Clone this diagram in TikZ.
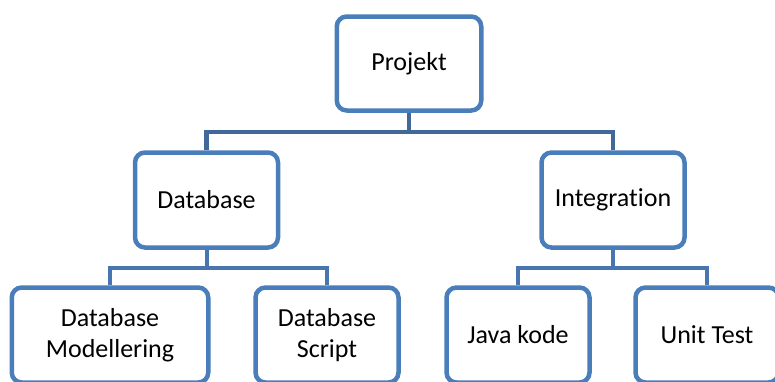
\documentclass[tikz,border=0pt]{standalone}
\usepackage{fontspec}
\setmainfont{Carlito}[Ligatures=NoCommon]
\definecolor{boxblue}{RGB}{74,126,187}
\definecolor{topconn}{RGB}{64,104,153}
\definecolor{lowconn}{RGB}{70,117,176}
\tikzset{
  wbox/.style={draw=boxblue, line width=4.5pt, rounded corners=10pt, fill=white,
    minimum width=143pt, minimum height=95pt, align=center, inner sep=0pt,
    font=\fontsize{26}{31}\selectfont, text=black},
  topline/.style={draw=topconn, line width=4.5pt},
  lowline/.style={draw=lowconn, line width=4pt}
}
\begin{document}
\begin{tikzpicture}[x=1pt,y=-1pt]
\useasboundingbox (0,0) rectangle (775,381);
\clip (0,0) rectangle (775,381);
\node[wbox, minimum width=144.5pt, minimum height=94pt] (proj) at (409,63.5) {Projekt};
\node[wbox] (db) at (206.5,200) {Database};
\node[wbox] (int) at (613,200) {Integration};
\node[wbox, minimum width=196.5pt] (dbm) at (110,335) {Database\\Modellering};
\node[wbox] (dbs) at (327,335) {Database\\Script};
\node[wbox] (java) at (518,335) {Java kode};
\node[wbox] (unit) at (707,335) {Unit Test};
\draw[topline] (proj.south) -- ++(0,19) -| (db.north);
\draw[topline] (proj.south) -- ++(0,19) -| (int.north);
\draw[lowline] (db.south) -- ++(0,18) -| (dbm.north);
\draw[lowline] (db.south) -- ++(0,18) -| (dbs.north);
\draw[lowline] (int.south) -- ++(0,18) -| (java.north);
\draw[lowline] (int.south) -- ++(0,18) -| (unit.north);
\end{tikzpicture}
\end{document}
